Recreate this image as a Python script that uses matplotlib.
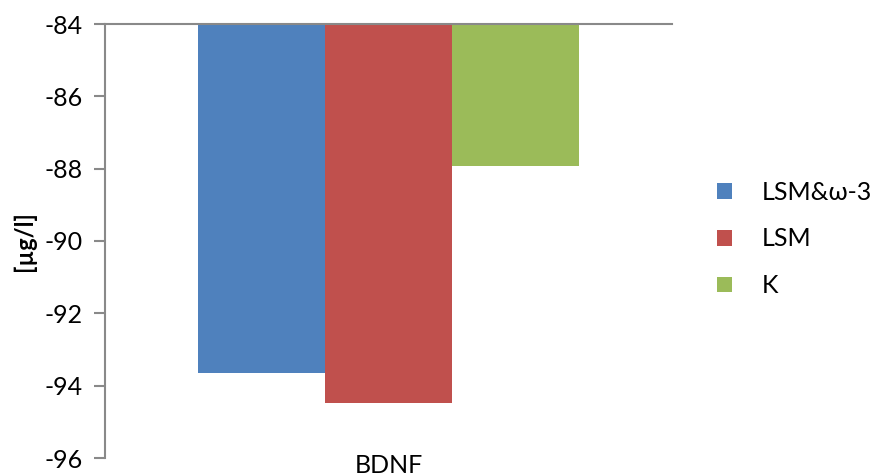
import matplotlib
matplotlib.use("Agg")
import matplotlib.pyplot as plt

categories = ["BDNF"]
series_names = ["LSM&ω-3", "LSM", "K"]
series_values = [-93.64, -94.47, -87.92]
colors = ["#4F81BD", "#C0504D", "#9BBB59"]
y_ticks = [-96, -94, -92, -90, -88, -86, -84]
baseline = -84

plt.rcParams["font.family"] = ["Lato", "DejaVu Sans"]

fig = plt.figure(figsize=(8.87, 4.76), dpi=100)
ax = fig.add_axes([105 / 887, 1 - 458 / 476, (672 - 105) / 887, (458 - 24) / 476])

bar_w = 0.224
offsets = [-bar_w, 0.0, bar_w]
for name, val, col, off in zip(series_names, series_values, colors, offsets):
    ax.bar(0 + off, val - baseline, bottom=baseline, width=bar_w,
           color=col, label=name, zorder=2)

ax.set_xlim(-0.5, 0.5)
ax.set_ylim(-96, -84)
ax.set_yticks(y_ticks)
ax.set_yticklabels([str(t) for t in y_ticks], fontsize=18)
ax.set_xticks([0])
ax.set_xticklabels(categories, fontsize=18)
ax.tick_params(axis="x", length=0, pad=-3)
ax.tick_params(axis="y", length=8, width=1.5, color="#898989", pad=8)

for side in ["right", "bottom"]:
    ax.spines[side].set_visible(False)
for side in ["left", "top"]:
    ax.spines[side].set_color("#898989")
    ax.spines[side].set_linewidth(1.5)
ax.spines["top"].set_zorder(3)

ax.set_ylabel("[µg/l]", fontsize=17, fontweight="bold", labelpad=6)

leg = ax.legend(loc="center left", bbox_to_anchor=(717 / 887, 1 - 239 / 476),
                bbox_transform=fig.transFigure, frameon=False, fontsize=18,
                borderpad=0, borderaxespad=0,
                handlelength=0.6, handleheight=0.6, handletextpad=1.2,
                labelspacing=0.95)

fig.savefig("out.png", dpi=100)
